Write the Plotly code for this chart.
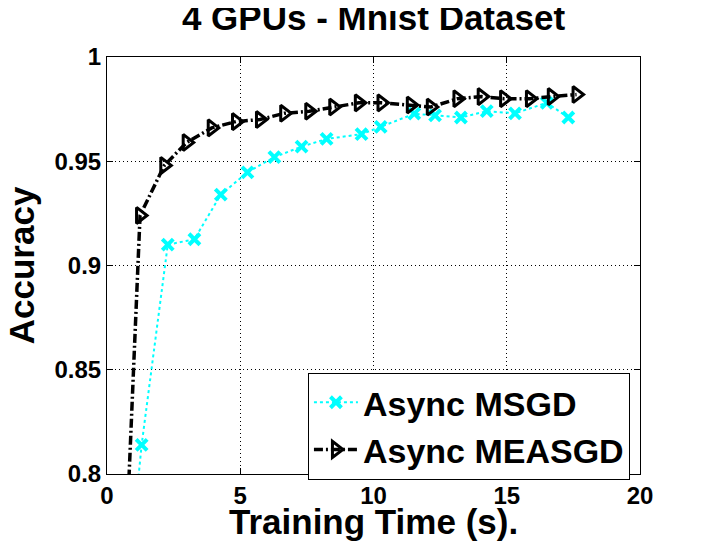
import plotly.graph_objects as go

# Async MSGD (cyan, dotted, x markers)
msgd_time = [0.5, 1.30, 2.28, 3.28, 4.27, 5.27, 6.28, 7.30, 8.24, 9.55, 10.27,
             11.53, 12.31, 13.28, 14.25, 15.31, 16.5, 17.31]
msgd_acc = [0.71, 0.814, 0.910, 0.9126, 0.934, 0.9447, 0.952, 0.957, 0.9607, 0.963,
            0.9665, 0.9728, 0.972, 0.971, 0.974, 0.973, 0.978, 0.971]

# Async MEASGD (black, dash-dot, open right triangles)
measgd_time = [0.5, 1.24, 2.15, 2.99, 3.93, 4.84, 5.74, 6.65, 7.59, 8.49, 9.45,
               10.3, 11.4, 12.15, 13.15, 14.06, 14.9, 15.87, 16.69, 17.62]
measgd_acc = [0.70, 0.924, 0.948, 0.959, 0.966, 0.969, 0.970, 0.973, 0.974, 0.976,
              0.978, 0.978, 0.977, 0.976, 0.980, 0.981, 0.980, 0.980, 0.981, 0.982]

x_ticks = [0, 5, 10, 15, 20]
y_ticks = [0.8, 0.85, 0.9, 0.95, 1]
y_tick_text = ["0.8", "0.85", "0.9", "0.95", "1"]

FONT = "Liberation Sans, Arial, sans-serif"

fig = go.Figure()
fig.add_trace(go.Scatter(
    x=msgd_time, y=msgd_acc, mode="lines+markers", name="Async MSGD",
    line=dict(color="#00ffff", width=2, dash="3px,3px"),
    marker=dict(symbol="x-thin", size=11, color="#00ffff",
                line=dict(color="#00ffff", width=4)),
))
fig.add_trace(go.Scatter(
    x=measgd_time, y=measgd_acc, mode="lines+markers", name="Async MEASGD",
    line=dict(color="black", width=3.5, dash="9px,3px,2px,3px"),
    marker=dict(symbol="triangle-right-open", size=14, color="black",
                line=dict(color="black", width=3)),
))

axis_common = dict(
    showline=True, linecolor="black", linewidth=1, mirror="ticks",
    ticks="inside", ticklen=6, tickcolor="black",
    showgrid=True, gridcolor="black", gridwidth=1, griddash="1px,3px",
    zeroline=False, automargin=False,
    tickfont=dict(family=FONT, size=24, color="black", weight="bold"),
)

fig.update_xaxes(range=[0, 20], tickvals=x_ticks,
                 ticktext=[str(t) for t in x_ticks], **axis_common)
fig.update_yaxes(range=[0.8, 1], tickvals=y_ticks,
                 ticktext=y_tick_text, **axis_common)

label_font = dict(family=FONT, size=35, color="black", weight="bold")
fig.add_annotation(text="Training Time (s).", xref="paper", yref="paper",
                   x=0.5, y=-0.113, xanchor="center", yanchor="middle",
                   showarrow=False, font=label_font)
fig.add_annotation(text="Accuracy", xref="paper", yref="paper",
                   x=-0.16, y=0.5, xanchor="center", yanchor="middle",
                   textangle=-90, showarrow=False, font=label_font)

# the page puts the figure 8px in from the top-left corner
fig.update_layout(
    width=701, height=538,
    margin=dict(l=99, r=69, t=49, b=72),
    paper_bgcolor="white", plot_bgcolor="white",
    title=dict(text="4 GPUs - Mnist Dataset", x=0.5, xref="paper",
               y=0.982, yref="container", yanchor="middle",
               font=dict(family=FONT, size=35, color="black", weight="bold")),
    legend=dict(x=0.377, y=0.243, xanchor="left", yanchor="top",
                bgcolor="white", bordercolor="black", borderwidth=1,
                font=dict(family=FONT, size=34, color="black", weight="bold"),
                itemwidth=44, tracegroupgap=0),
    showlegend=True,
)

fig.write_html("out.html")
